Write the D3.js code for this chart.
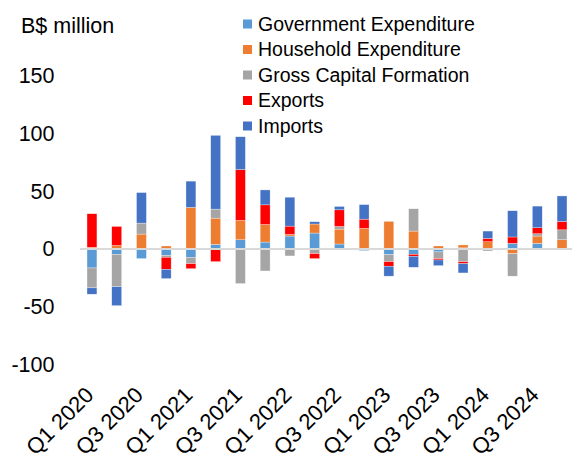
<!DOCTYPE html>
<html>
<head>
<meta charset="utf-8">
<script src="https://cdn.jsdelivr.net/npm/d3@7"></script>
<style>
  html, body { margin: 0; padding: 0; background: #fff; }
  svg { display: block; font-family: "Liberation Sans", Arial, sans-serif; }
</style>
</head>
<body>
<svg id="chart" width="572" height="457"></svg>
<script>
// Contributions to GDP growth by expenditure component, B$ million
const quarters = [
  "Q1 2020", "Q2 2020", "Q3 2020", "Q4 2020",
  "Q1 2021", "Q2 2021", "Q3 2021", "Q4 2021",
  "Q1 2022", "Q2 2022", "Q3 2022", "Q4 2022",
  "Q1 2023", "Q2 2023", "Q3 2023", "Q4 2023",
  "Q1 2024", "Q2 2024", "Q3 2024", "Q4 2024"
];
const governmentExpenditure = [-16.4, -4.6, -8.3, -5.5, -7.2, 4, 8, 6, 11.2, 13.8, 4.3, -1.4, -4.9, -4.6, -2.5, 1, 0, 4.9, 4.9, 0];
const householdExpenditure  = [1.5, 3, 12.9, 2.6, 36, 22.7, 16.7, 15.2, 1.4, 7.8, 12.9, 17.8, 23.9, 15.5, 2.6, 2.5, 6.3, -4, 6.3, 8];
const grossCapitalFormation = [-17.2, -28, 9.5, -1.7, -5.5, 7.8, -29.9, -19, -6, -4, 2.3, 0, -6, 19.3, -5.8, -11, -1.7, -19.5, 2, 8.6];
const exportsSeries         = [29, 16.5, 0, -10.4, -4.3, -10.9, 44, 17, 7.2, -4.3, 14.4, 8, -4, -1.7, -1.2, -1.7, 2.9, 5.5, 5.2, 7.2];
const importsSeries         = [-5.5, -16.4, 26.4, -8, 22.7, 63.8, 28.4, 12.9, 25, 2, 2.9, 12.6, -8.6, -9.5, -4.9, -8, 6.3, 22.7, 18.7, 22.1];
const yTicks = [-100, -50, 0, 50, 100, 150];

const seriesNames = ["Government Expenditure", "Household Expenditure", "Gross Capital Formation", "Exports", "Imports"];
const seriesValues = [governmentExpenditure, householdExpenditure, grossCapitalFormation, exportsSeries, importsSeries];
const colors = ["#5B9BD5", "#ED7D31", "#A5A5A5", "#FF0000", "#4472C4"];

const rows = quarters.map((q, i) => {
  const r = { quarter: q };
  seriesNames.forEach((s, j) => { r[s] = seriesValues[j][i]; });
  return r;
});

const svg = d3.select("#chart");

const x = d3.scaleBand()
  .domain(quarters)
  .range([79.6, 574.4])
  .paddingInner(0.6)
  .paddingOuter(0.3);

const y = d3.scaleLinear()
  .domain([-100, 150])
  .range([364.6, 75.6]);

const stacked = d3.stack()
  .keys(seriesNames)
  .offset(d3.stackOffsetDiverging)(rows);

const color = d3.scaleOrdinal().domain(seriesNames).range(colors);

// stacked bars, positives above and negatives below zero
svg.append("g")
  .selectAll("g")
  .data(stacked)
  .join("g")
  .attr("fill", d => color(d.key))
  .selectAll("rect")
  .data(d => d)
  .join("rect")
  .attr("x", d => x(d.data.quarter))
  .attr("width", x.bandwidth())
  .attr("y", d => y(Math.max(d[0], d[1])))
  .attr("height", d => Math.abs(y(d[0]) - y(d[1])))
  .attr("stroke", "#ffffff")
  .attr("stroke-width", 0.5)
  .attr("stroke-opacity", 0.6);

// zero line
svg.append("line")
  .attr("x1", 80).attr("x2", 572)
  .attr("y1", y(0)).attr("y2", y(0))
  .attr("stroke", "#D9D9D9")
  .attr("stroke-width", 2);

// y axis labels (plain hyphen for negatives)
const yAxis = d3.axisLeft(y).tickValues(yTicks).tickSize(0).tickPadding(0)
  .tickFormat(d => String(d));
svg.append("g")
  .attr("transform", "translate(54.5,0)")
  .call(yAxis)
  .call(g => g.select(".domain").remove())
  .call(g => g.selectAll("text")
    .attr("font-size", 21.5)
    .attr("font-family", "Liberation Sans, Arial, sans-serif")
    .attr("fill", "#000"));

// unit label
svg.append("text")
  .attr("x", 21).attr("y", 25)
  .attr("dy", "0.35em")
  .attr("font-size", 21.5)
  .attr("fill", "#000")
  .text("B$ million");

// x axis labels, every second quarter
svg.append("g")
  .selectAll("text")
  .data(quarters.filter((q, i) => i % 2 === 0))
  .join("text")
  .attr("transform", d => `translate(${x(d) + x.bandwidth() / 2 - 2.5},${391}) rotate(-45)`)
  .attr("text-anchor", "end")
  .attr("dy", "0.35em")
  .attr("font-size", 22)
  .attr("fill", "#000")
  .text(d => d);

// legend
const legend = svg.append("g")
  .selectAll("g")
  .data(seriesNames)
  .join("g")
  .attr("transform", (d, i) => `translate(243,${24 + i * 25.5})`);
legend.append("rect")
  .attr("x", 0).attr("y", -4.5)
  .attr("width", 9).attr("height", 9)
  .attr("fill", d => color(d));
legend.append("text")
  .attr("x", 15)
  .attr("dy", "0.35em")
  .attr("font-size", 19.5)
  .attr("fill", "#000")
  .text(d => d);
</script>
</body>
</html>
